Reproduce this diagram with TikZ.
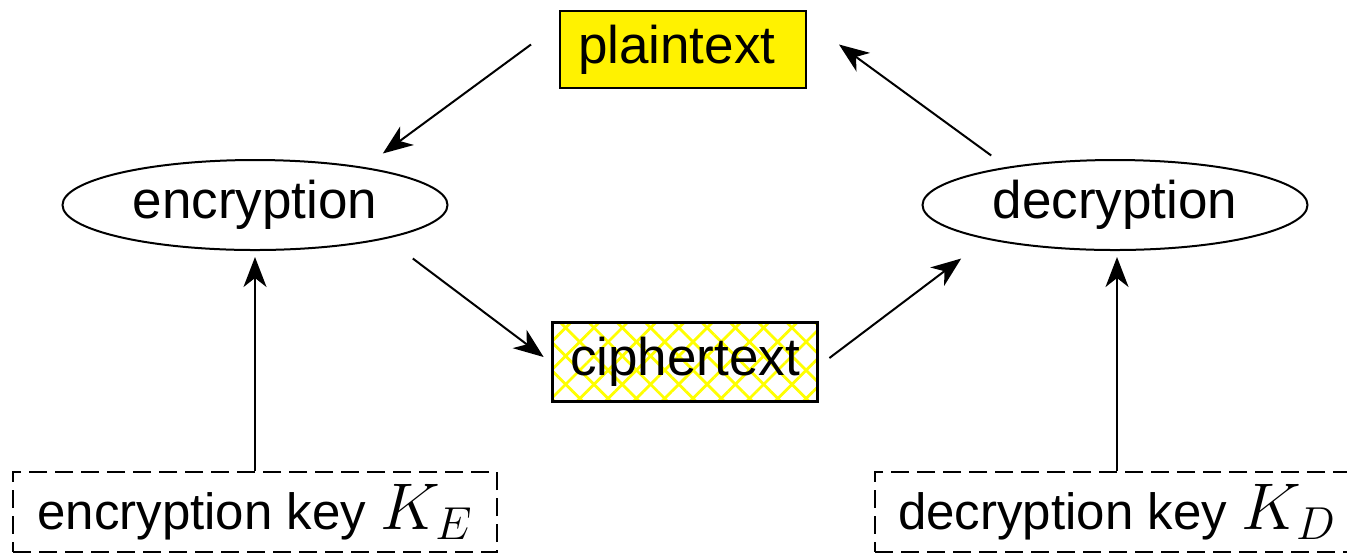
\RequirePackage{fix-cm}
\documentclass[tikz,border=0pt]{standalone}
\usepackage{fontspec}
\setmainfont{Liberation Sans}
\usetikzlibrary{shapes.geometric,arrows.meta,patterns.meta,calc}
\newcommand{\bigmath}[1]{{\fontsize{33pt}{36pt}\selectfont$#1$}}
\begin{document}
\begin{tikzpicture}[x=0.5pt,y=-0.5pt,
  txt/.style={font=\fontsize{26.5pt}{30pt}\selectfont},
  box/.style={txt,draw,line width=1pt,inner sep=0pt},
  ell/.style={txt,draw,ellipse,line width=1pt,inner sep=0pt,minimum width=192.5pt,minimum height=45pt},
  keybox/.style={font=\fontsize{25.5pt}{30pt}\selectfont,draw,line width=1pt,dash pattern=on 9pt off 4pt,inner sep=0pt,minimum width=242pt,minimum height=40pt},
  arr/.style={line width=1pt,-{Stealth[length=15pt,width=11.5pt,inset=4.5pt]}}
]
\clip (0,0) rectangle (1347,554);
\fill[white] (0,0) rectangle (1347,554);
\node[box,fill=yellow,minimum height=38.5pt,text width=105pt,align=left,inner xsep=9pt] (plain) at (683,49.5) {plaintext};
\node[box,minimum width=132pt,minimum height=39pt,
  preaction={pattern={Lines[angle=45,distance=10pt,line width=1.4pt]},pattern color=yellow},
  pattern={Lines[angle=-45,distance=10pt,line width=1.4pt]},pattern color=yellow] (ciph) at (685,362) {};
\node[txt] (ciphlabel) at (ciph) {ciphertext};
\draw[line width=1pt] (ciph.north west) rectangle (ciph.south east);
\node[ell] (enc) at (255,205) {encryption};
\node[ell] (dec) at (1115,205) {decryption};
\node[keybox] (keyE) at (255,512) {encryption key \bigmath{K_E}};
\node[keybox] (keyD) at (1117,512) {decryption key \bigmath{K_D}};
\draw[arr] ($(plain.west)+(-28,-5)$) -- ($(enc.north east)+(-9,-19)$);
\draw[arr] ($(enc.south east)+(21,21)$) -- ($(ciph.west)+(-8,-5)$);
\draw[arr] ($(ciph.east)+(11,-4)$) -- ($(dec.south west)+(-17,21)$);
\draw[arr] ($(dec.north west)+(13,-17)$) -- ($(plain.east)+(32,-5)$);
\draw[arr] (keyE.north) -- ($(enc.south)+(0,6)$);
\draw[arr] (keyD.north) -- ($(dec.south)+(2,6)$);
\end{tikzpicture}
\end{document}
